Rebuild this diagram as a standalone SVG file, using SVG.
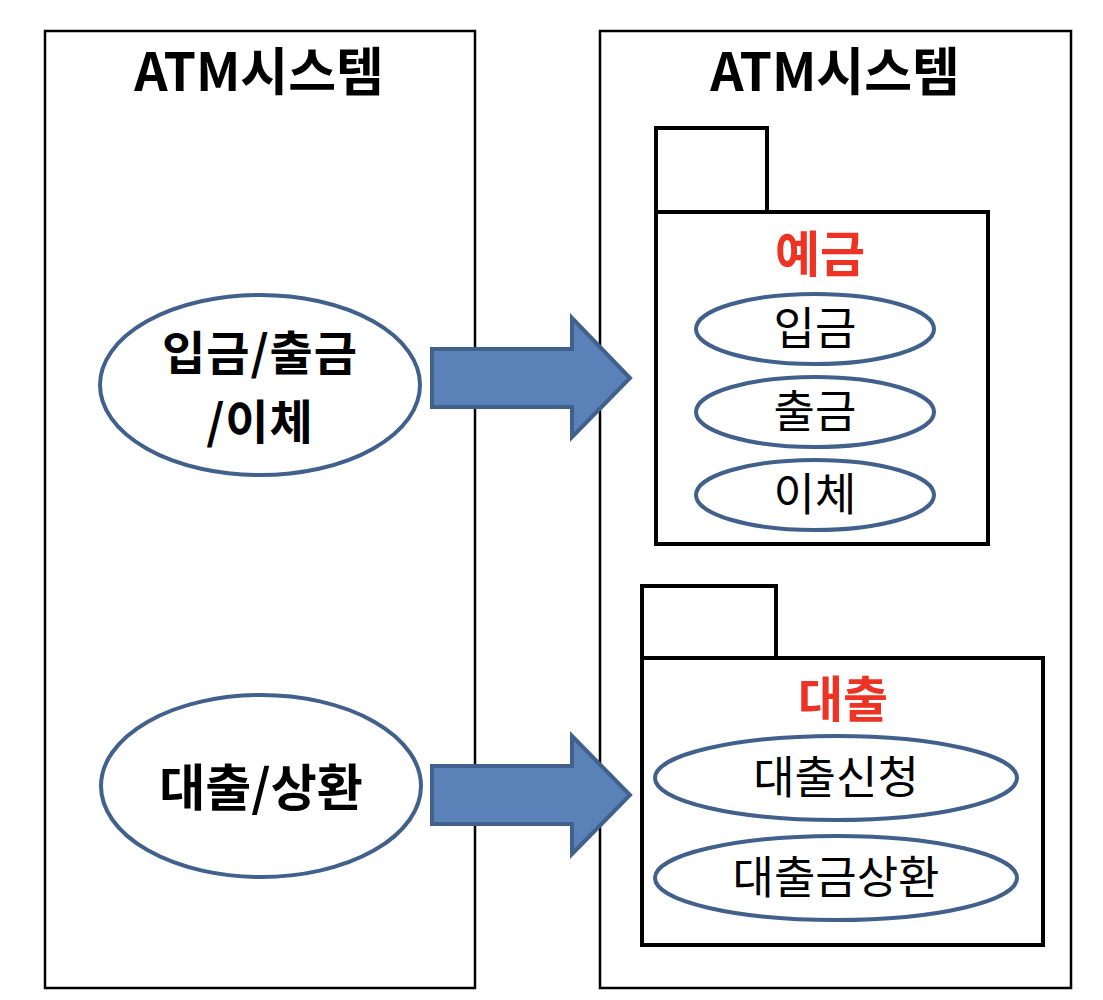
<svg xmlns="http://www.w3.org/2000/svg" width="1103" height="1000" viewBox="0 0 1103 1000">
<style>
.sys{fill:#fff;stroke:#000;stroke-width:2.5}
.pkg{fill:#fff;stroke:#000;stroke-width:4}
.uc{fill:#fff;stroke:#41608C;stroke-width:4}
.arr{fill:#5B81B9;stroke:#41608C;stroke-width:4;stroke-linejoin:miter}
text{font-family:"Noto Sans CJK KR","Noto Sans",sans-serif;text-anchor:middle}
.title{font-size:52px;font-weight:bold;fill:#000}
.big{font-size:50px;font-weight:bold;fill:#000}
.big2{font-size:47px;font-weight:bold;fill:#000}
.pt{font-size:49px;font-weight:bold;fill:#EE3224}
.ut{font-size:45px;fill:#000}
</style>
<rect width="1103" height="1000" fill="#fff"/>
<g id="left-system">
<rect class="sys" x="45" y="31" width="430" height="957"/>
<text class="title" x="259" y="91">ATM시스템</text>
</g>
<g id="right-system">
<rect class="sys" x="600" y="31" width="471" height="957"/>
<text class="title" x="835" y="91">ATM시스템</text>
</g>
<g id="uc-left-1">
<ellipse class="uc" cx="260" cy="385" rx="160" ry="90"/>
<text class="big2" x="260" y="370" letter-spacing="1">입금/출금</text>
<text class="big2" x="260" y="439" letter-spacing="1">/이체</text>
</g>
<g id="uc-left-2">
<ellipse class="uc" cx="261" cy="786" rx="160" ry="91"/>
<text class="big" x="261" y="806">대출/상환</text>
</g>
<g id="pkg-deposit">
<rect class="pkg" x="656" y="128" width="111" height="84"/>
<rect class="pkg" x="656" y="212" width="332" height="332"/>
<text class="pt" x="820" y="272">예금</text>
</g>
<g id="uc-deposit-in">
<ellipse class="uc" cx="815" cy="329" rx="119" ry="35"/>
<text class="ut" x="815" y="345">입금</text>
</g>
<g id="uc-deposit-out">
<ellipse class="uc" cx="815" cy="412" rx="119" ry="35"/>
<text class="ut" x="815" y="428">출금</text>
</g>
<g id="uc-transfer">
<ellipse class="uc" cx="815" cy="495" rx="119" ry="35"/>
<text class="ut" x="815" y="511">이체</text>
</g>
<g id="pkg-loan">
<rect class="pkg" x="642" y="586" width="134" height="72"/>
<rect class="pkg" x="642" y="658" width="401" height="287"/>
<text class="pt" x="843" y="717">대출</text>
</g>
<g id="uc-loan-apply">
<ellipse class="uc" cx="836" cy="778" rx="181" ry="42"/>
<text class="ut" x="836" y="794">대출신청</text>
</g>
<g id="uc-loan-repay">
<ellipse class="uc" cx="836" cy="878" rx="181" ry="42"/>
<text class="ut" x="836" y="894">대출금상환</text>
</g>
<g id="connectors">
<polygon class="arr" points="432,349 572,349 572,318 630,378 572,437 572,407 432,407"/>
<polygon class="arr" points="432,766 572,766 572,736 630,795 572,854 572,824 432,824"/>
</g>
</svg>
